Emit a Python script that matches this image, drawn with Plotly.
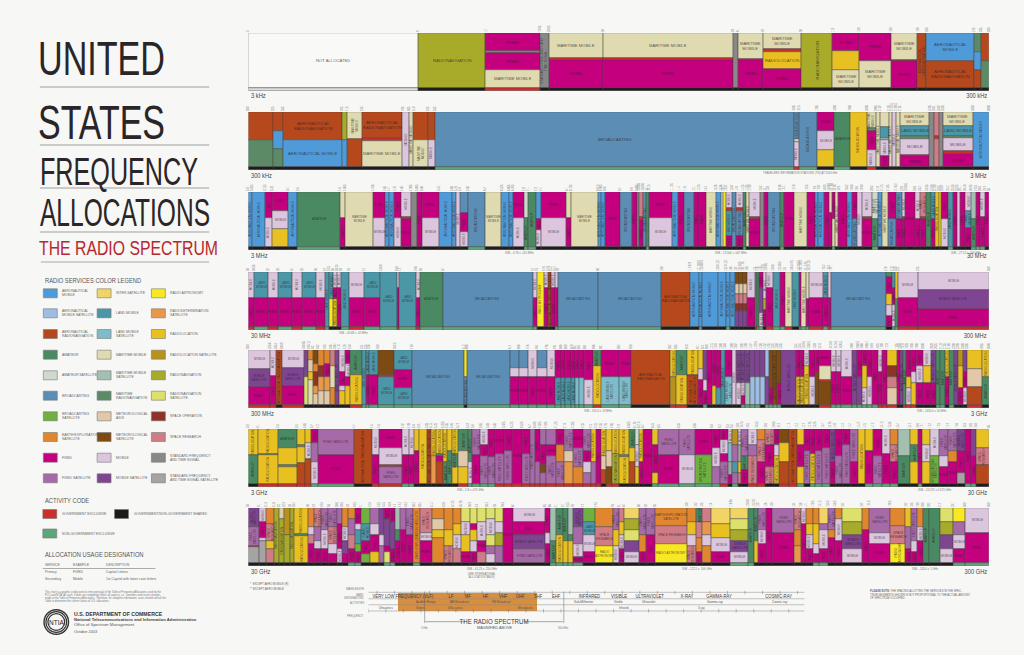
import json
import re
import plotly.graph_objects as go

W, H = 1024, 655
NARROW = "Liberation Sans Narrow, Arial, sans-serif"
SANS = "Liberation Sans, Arial, sans-serif"

# service code -> (colour, label on the chart and legend)
services = {
    "AM": ("#4f9bd9", "AERONAUTICAL MOBILE"), "AMS": ("#9dbde3", "AERONAUTICAL MOBILE SATELLITE"),
    "AR": ("#b5481c", "AERONAUTICAL RADIONAVIGATION"), "AT": ("#4a8a63", "AMATEUR"),
    "ATS": ("#cfd9cc", "AMATEUR SATELLITE"), "B": ("#5b8db5", "BROADCASTING"),
    "BS": ("#6fb040", "BROADCASTING SATELLITE"), "E": ("#e0862f", "EARTH EXPLORATION SATELLITE"),
    "F": ("#c4007f", "FIXED"), "FS": ("#a76aa8", "FIXED SATELLITE"),
    "IS": ("#f2d466", "INTER-SATELLITE"), "LM": ("#4b97a8", "LAND MOBILE"),
    "LMS": ("#7fbccb", "LAND MOBILE SATELLITE"), "MM": ("#e0dab0", "MARITIME MOBILE"),
    "MMS": ("#a3bfb0", "MARITIME MOBILE SATELLITE"), "MR": ("#5c8a66", "MARITIME RADIONAVIGATION"),
    "MA": ("#e0c8a8", "METEOROLOGICAL AIDS"), "MS": ("#7e4a14", "METEOROLOGICAL SATELLITE"),
    "M": ("#dcc6de", "MOBILE"), "MOS": ("#7f4593", "MOBILE SATELLITE"),
    "RA": ("#f7e823", "RADIO ASTRONOMY"), "RD": ("#e8984a", "RADIODETERMINATION SATELLITE"),
    "RL": ("#e8c021", "RADIOLOCATION"), "RLS": ("#b8921c", "RADIOLOCATION SATELLITE"),
    "RN": ("#a8ab2a", "RADIONAVIGATION"), "RNS": ("#dde06a", "RADIONAVIGATION SATELLITE"),
    "SO": ("#8f3228", "SPACE OPERATION"), "SR": ("#cf7c86", "SPACE RESEARCH"),
    "SF": ("#888888", "STANDARD FREQUENCY AND TIME SIGNAL"),
    "SFS": ("#a5a3a3", "STANDARD FREQUENCY AND TIME SIGNAL SATELLITE"),
    "NA": ("#f9f9f8", "NOT ALLOCATED"),
    "G": ("#c9302c", ""),
}
activity_colors = {"S": "#1c1a1b", "G": "#c9302c", "N": "#5da57a", "U": "#dcdcdc"}

legend_columns = [
    [("AM", "AERONAUTICAL\nMOBILE"), ("AMS", "AERONAUTICAL\nMOBILE SATELLITE"), ("AR", "AERONAUTICAL\nRADIONAVIGATION"),
     ("AT", "AMATEUR"), ("ATS", "AMATEUR SATELLITE"), ("B", "BROADCASTING"), ("BS", "BROADCASTING\nSATELLITE"),
     ("E", "EARTH EXPLORATION\nSATELLITE"), ("F", "FIXED"), ("FS", "FIXED SATELLITE")],
    [("IS", "INTER-SATELLITE"), ("LM", "LAND MOBILE"), ("LMS", "LAND MOBILE\nSATELLITE"), ("MM", "MARITIME MOBILE"),
     ("MMS", "MARITIME MOBILE\nSATELLITE"), ("MR", "MARITIME\nRADIONAVIGATION"), ("MA", "METEOROLOGICAL\nAIDS"),
     ("MS", "METEOROLOGICAL\nSATELLITE"), ("M", "MOBILE"), ("MOS", "MOBILE SATELLITE")],
    [("RA", "RADIO ASTRONOMY"), ("RD", "RADIODETERMINATION\nSATELLITE"), ("RL", "RADIOLOCATION"),
     ("RLS", "RADIOLOCATION SATELLITE"), ("RN", "RADIONAVIGATION"), ("RNS", "RADIONAVIGATION\nSATELLITE"),
     ("SO", "SPACE OPERATION"), ("SR", "SPACE RESEARCH"), ("SF", "STANDARD FREQUENCY\nAND TIME SIGNAL"),
     ("SFS", "STANDARD FREQUENCY\nAND TIME SIGNAL SATELLITE")],
]

# 3 kHz - 300 kHz
band1_widths = [511, 204, 163, 27, 163, 393, 15, 75, 115, 94, 80, 95, 81, 27, 143, 22, 22]
band1_stacks = ["NA", "RN", "F33 SF4 F30 MM33", "SF", "MM46 G3 F51", "MM46 G3 F51", "SF", "MM48 G2 F50",
                "MM29 G6 RL31 F34", "RN", "F33 RL34 MM33", "F51 MM49", "MM49 G2 F49", "AR", "AM51 AR49",
                "MR34 AM33 AR33", "AR52 MR48"]
band1_activity = "USGSS SSSSS SSSSS SS"
band1_freqs = ["3", "9", "14", "19.95", "20.05", "30", "59", "61", "70", "90", "110", "130", "160", "190", "200",
               "275", "285", "300"]

# 300 kHz - 3 MHz
band2_widths = [76, 30, 177, 15, 45, 122, 20, 13, 43, 22,
                1082, 13, 55, 53, 47, 50, 27, 14, 25, 11,
                11, 11, 90, 14, 14, 12, 90, 48]
band2_stacks = ["AR51 MR49", "AR34 AM34 MR32", "AR51 AM49", "RN51 AM49", "MM50 AR50", "AR48 G5 MM47", "M", "MM",
                "AR51 MM49", "AR51 M49",
                "B", "B50 ATS5 M45", "B", "F35 M35 RL30", "AT", "RL", "MM30 MR5 F35 M30", "MM",
                "MM27 LM20 MMS5 M28 F20", "MM",
                "M", "MM", "MM25 LM19 MR5 M29 G2 F20", "SF", "SR43 G7 SR50", "SF", "MM25 LM18 MR4 M25 G5 F23", "AM"]
band2_activity = "SSSSS SSSSS NGNSN SGSSS SSSSS SSS"
band2_freqs = ["300", "325", "335", "405", "415", "435", "495", "505", "510", "525", "535", "1605", "1615", "1705",
               "1800", "1900", "2000", "2065", "2107", "2170", "2173.5", "2190.5", "2194", "2495", "2501", "2502",
               "2505", "2850", "3000"]

# 3 MHz - 30 MHz
band3_widths = [13, 38, 22, 48, 28, 128, 16, 83, 36, 13,
                16, 21, 28, 19, 14, 53, 39, 11, 12, 25,
                50, 50, 23, 12, 33, 13, 24, 14, 77, 14,
                80, 10, 13, 45, 35, 14, 8, 12, 10, 8,
                68, 20, 18, 29, 15, 20, 30, 15, 7, 8,
                20, 13, 20, 10, 9, 33, 12, 10, 38, 12,
                30, 38, 23, 12, 18, 14, 8, 10, 10, 25,
                15, 15, 15, 30, 20, 10, 20, 22, 18, 12,
                28, 15, 20, 15, 10, 12, 8, 20, 15, 13,
                7, 15, 20, 15, 10, 15, 12]
band3_stacks = ["AM", "AM", "F48 M52", "F34 M34 RL32", "AM", "AT", "MM48 F52", "MM", "F48 M52", "AM",
                "AM", "F48 M52", "M45 G4 F51", "SF", "F", "F48 M52", "AM", "AM", "M", "B38 F35 M27",
                "B", "MM", "AM", "AM", "F48 M52", "ATS48 AT52", "AT", "AM50 F20 M30", "F48 M52", "MM48 F52",
                "MM", "AM", "AM", "F", "B", "F", "SF", "SR45 G6 F49", "B", "AT",
                "F48 M52", "AM", "F", "B", "F", "F", "MM", "AM", "MM", "RA",
                "M30 G5 LM45 F20", "B", "M30 G5 B45 F20", "AT", "MM", "M45 G5 F50", "SF", "F", "B", "AT",
                "F", "MM", "F", "AM", "AM", "F", "MM38 F62", "F50 MM50", "MM", "F",
                "AM", "F50 B50", "M", "M45 G5 F50", "ATS50 AT50", "AM", "MM", "F50 B50", "B50 F50", "M45 G4 F51",
                "F", "M50 F50", "SR45 G5 F50", "AT", "LM50 F50", "RL", "RA", "F50 M50", "LM", "F",
                "M", "F", "M35 LM30 F35", "MMS50 AT50", "F", "M45 F55", "F"]
band3_activity = ("SSSSS NSSSS SSSSS SSSSS NSSSS NNSSS SSSSS SSSSN SSSSS SSSSS SSSNS SSSSN SSSSS SSNSS SSSSN SSSSS "
                  "SSSSS SSSNS SSSNN NSNNS")
band3_freqs = ["3.0", "3.025", "3.155", "3.23", "3.4", "3.5", "4.0", "4.063", "4.438", "4.65", "4.7", "4.75", "4.85",
               "4.995", "5.005", "5.06", "5.45", "5.68", "5.73", "5.9", "5.95", "6.2", "6.525", "6.685", "6.765",
               "7.0", "7.1", "7.3", "7.4", "8.1", "8.195", "8.815", "8.965", "9.04", "9.4", "9.9", "9.995",
               "10.003", "10.005", "10.1", "10.15", "11.175", "11.4", "11.6", "12.1", "12.23", "13.2", "13.26",
               "13.36", "13.41", "13.57", "13.87", "14.0", "14.25", "14.35", "14.99", "15.01", "15.1", "15.8",
               "16.36", "17.41", "17.48", "17.55", "17.9", "17.97", "18.03", "18.068", "18.168", "18.78", "18.9",
               "19.02", "19.68", "19.8", "19.99", "20.01", "21.0", "21.45", "21.85", "21.924", "22.0", "22.855",
               "23.0", "23.2", "23.35", "24.89", "24.99", "25.01", "25.07", "25.21", "25.33", "25.55", "26.1",
               "26.48", "26.95", "27.54", "28.0", "29.7", "30"]

# 30 MHz - 300 MHz
band4_widths = [18, 43, 29, 43, 29, 42, 28, 11, 13, 12,
                11, 24, 46, 50, 49, 8, 49, 14, 67, 271,
                14, 19, 13, 10, 12, 8, 121, 191, 85, 28,
                10, 48, 22, 15, 15, 12, 10, 13, 23, 7,
                7, 10, 9, 22, 22, 15, 20, 20, 8, 14,
                8, 45, 15, 7, 166, 17, 10, 8, 61, 213]
band4_stacks = ["M47 F53", "LM47 F53", "M47 F53", "LM47 F53", "M47 F53", "LM47 F53", "M47 F53", "LM", "LM50 RA50",
                "M30 F20 RL50",
                "M30 F70", "LM", "M47 F53", "LM47 F53", "LM", "M30 F70", "LM", "M47 F53", "AT", "B",
                "M47 F53", "RA", "M30 F70", "AR", "M30 F70", "M30 F70", "B", "B", "AR", "AM",
                "AM", "AM", "AM", "AM", "AM", "MS22 MA18 SR18 SO14 MOS28", "MS22 MA18 SR18 SO14 MOS28",
                "MS22 MA18 SR18 SO14 MOS28", "M47 F53", "AT",
                "AT", "F30 MOS45 M25", "M50 RN20 F30", "M30 F70", "LM", "F", "MM", "LM", "F", "MM",
                "MM50 F50", "M47 F53", "LM47 F53", "M47 F53", "B", "AT10 F30 RL20 M20 F20", "LM30 F30 M40",
                "RL50 AT50", "M47 F53", "M33 MOS34 F33"]
band4_activity = "GNGNG NGNSS SNGNN GNGNN NSSSS NNNSS NSSNS SSSSG NNSGN NGSNN NGNGN SNNGG"
band4_freqs = ["30", "30.56", "32", "33", "34", "35", "36", "37", "37.5", "38", "38.25", "39", "40", "42", "43.69",
               "46.6", "47", "49.6", "50", "54", "72", "73", "74.6", "74.8", "75.2", "75.4", "76", "88", "108",
               "117.975", "121.9375", "123.0875", "128.8125", "132.0125", "136", "137", "137.025", "137.175", "138",
               "144", "146", "148", "149.9", "150.05", "150.8", "152.855", "154", "156.2475", "157.0375", "157.1875",
               "161.575", "162.0125", "173.2", "173.4", "174", "216", "219", "220", "222", "225", "300"]

# 300 MHz - 3 GHz
band5_widths = [66, 17, 19, 66, 14, 13, 15, 20, 18, 13,
                13, 19, 15, 35, 12, 10, 26, 50, 52, 157,
                10, 128, 28, 28, 27, 29, 25, 18, 13, 18,
                10, 12, 17, 27, 23, 55, 36, 117, 17, 35,
                33, 14, 13, 13, 12, 15, 13, 22, 12, 16,
                12, 15, 15, 15, 13, 12, 12, 13, 12, 46,
                12, 11, 16, 18, 13, 34, 15, 15, 33, 17,
                15, 13, 17, 18, 12, 14, 29, 10, 10, 10,
                15, 15, 20, 25, 13, 14, 13, 13, 15, 12,
                15, 13, 44, 20]
band5_stacks = ["M34 MOS33 F33", "M48 F52", "AR", "M33 MOS33 F34", "MOS50 RNS50", "E18 MA22 RL15 MM45",
                "MS25 E15 SO25 RD15 MA20", "E30 SO20 RD25 MA25", "E25 F25 RD25 MA25", "SR30 MM40 E30",
                "MOS", "M40 F25 M10 RL25", "F25 M25 F15 RL35", "AT45 RL55", "LM", "LM45 F55", "LM45 F55",
                "MS45 G5 LM50", "LM37 F33 LM30", "B",
                "RA50 B50", "B", "B33 M17 F50", "B33 M17 F50", "M50 F50", "B33 M17 F50", "M50 F50", "F52 LM48",
                "F52 LM48", "F52 LM48",
                "F52 LM48", "F52 LMS48", "F52 LMS48", "F55 M45", "AT30 RL70", "F50 LMS50", "F50 LMS50", "AR",
                "RL50 RLS50", "AT45 RL55",
                "RL45 G3 AR52", "RL35 M20 F45", "MOS55 M20 F25", "F", "F65 RL35", "F70 LM30", "LM", "F50 LMS50", "M",
                "MOS60 M40",
                "MOS60 M25 F15", "MOS60 MMS40", "MOS50 AMS50", "MOS50 AMS50", "MOS50 AMS50", "AMS50 MOS50",
                "MS70 F30", "MS", "MS60 F40", "MOS",
                "F50 RL50", "F50 RL50", "M30 RL70", "F50 M50", "F40 MS60", "F30 MM25 G3 MS42", "M40 F60", "M40 F60",
                "M50 F50", "MOS",
                "F50 MOS50", "F30 RL40 M30", "F50 M50", "F", "M40 F60", "F", "RL30 SO20 SR20 MA30", "F", "MOS", "AT",
                "F50 RL20 M30", "F40 M20 RL40", "F30 M30 F40", "M30 RL30 F40", "MOS60 F40", "AT", "AT", "RL50 F50",
                "AT", "MOS",
                "RLS30 RL40 F30", "MOS40 F30 M30", "RL34 MA33 AR33", "RL50 AT50"]
band5_activity = ("GGSGS SSSSS SSSGN NNNNN SNNNN NNNNN NNNNG NNSGG SSNSS SSSSS NNNNS NNNNS SSSSS GNNNN NNNNG GGSSG "
                  "GGSSS NNSNS SSGS")
band5_freqs = ["300", "328.6", "335.4", "399.9", "400.05", "400.15", "401", "402", "403", "406", "406.1", "410", "420",
               "450", "454", "455", "456", "460", "462.5", "470", "512", "608", "614", "698", "746", "764", "776",
               "794", "806", "809", "849", "851", "854", "894", "896", "901", "902", "928", "932", "935", "940",
               "941", "944", "960", "1215", "1240", "1300", "1350", "1390", "1392", "1395", "1400", "1427", "1429.5",
               "1430", "1432", "1435", "1525", "1530", "1535", "1544", "1545", "1549.5", "1558.5", "1559", "1610",
               "1610.6", "1613.8", "1626.5", "1660", "1660.5", "1668", "1668.4", "1670", "1675", "1700", "1710",
               "1755", "1850", "1910", "1920", "1930", "1990", "2000", "2020", "2025", "2110", "2155", "2180", "2200",
               "2290", "2300", "2305", "2655", "3000"]

# 3 GHz - 30 GHz
band6_widths = [30, 60, 58, 23, 20, 19, 108, 55, 22, 70,
                20, 15, 14, 26, 10, 16, 22, 12, 15, 18,
                30, 13, 24, 22, 21, 28, 25, 30, 24, 13,
                15, 20, 30, 25, 25, 30, 25, 15, 15, 15,
                18, 22, 28, 20, 12, 12, 28, 18, 62, 48,
                50, 24, 26, 12, 18, 10, 20, 27, 25, 25,
                17, 28, 25, 20, 20, 15, 22, 23, 15, 22,
                23, 25, 20, 25, 25, 25, 25, 35, 25, 12,
                23, 27, 28, 28, 22, 18, 17, 37]
band6_stacks = ["RL48 AT52", "RL45 MR3 RL52", "AT35 RL30 MR4 RL31", "RL30 MR3 RL30 AR37", "RL25 M30 AR45",
                "F25 FS35 M40", "FS48 F52", "AR", "M48 F52", "F34 M32 G4 FS30",
                "M48 F52", "M48 F52", "RL40 F60", "RL", "AR", "RL50 RD50", "RL45 MR5 F10 AR40", "RL60 AT40",
                "RL40 AT60", "RL45 AT25 RL30",
                "AT40 MA30 RL30", "AT60 M40", "FS48 F52", "M30 F20 FS50", "F52 FS48", "F45 FS55", "F40 FS60", "F",
                "F45 FS55", "FS",
                "F60 FS40", "FS30 F35 MS15 FS20", "FS30 F20 FS50", "F30 E30 FS40", "FS40 MA20 RD40", "F35 FS35 E30",
                "FS40 F20 M20 FS20", "RL60 FS40", "F", "RL50 MA25 AR25",
                "RL40 MA30 MS30", "RL45 RN55", "RL48 MR4 RL48", "AT35 RL25 AR40", "ATS30 M40 RL30", "RL60 F40", "F",
                "RL30 F50 RL20", "FS48 F52", "FS48 M52",
                "F48 BS52", "F35 M35 FS30", "F20 M25 F15 FS40", "M25 LMS35 SFS25 F15", "RLS30 FS30 LM20 FS20",
                "M30 SFS30 RL20 SR20", "FS50 AT25 F25", "M30 FS20 SR50", "E20 SR40 F40", "SR30 F40 SR30",
                "F30 M20 RL50", "MS25 RL35 AR40", "AR", "RL30 F40 RL30", "F40 FS60", "F45 RL55", "F40 FS60", "F35 FS65",
                "MOS60 F40", "F50 FS50",
                "F30 FS70", "FS60 F40", "RL", "RL40 F60", "F50 FS50", "M45 F55", "E30 SR30 F40", "MMS50 AT50",
                "RL30 AT30 RL40", "F", "RL30 M30 RL40", "M50 BS50", "FS50 M20 F30", "FS40 E20 F40", "MOS40 F40 SFS20",
                "F", "MOS50 F50", "RL35 SR30 AR35"]
band6_activity = ("SGGGG NNSGG NNSSS SSSSS GNNNN GGGGG GGGGG GGGGS GGSSS SSNNN NNGSN SSGGS SGGNS NNNSS SSSNN NNSSN SSSSS "
                  "NNSS")
band6_freqs = ["3.0", "3.1", "3.3", "3.5", "3.65", "3.7", "4.2", "4.4", "4.5", "4.8", "4.94", "4.99", "5.0", "5.01",
               "5.03", "5.15", "5.25", "5.255", "5.35", "5.46", "5.47", "5.57", "5.6", "5.65", "5.83", "5.85", "5.925",
               "6.425", "6.525", "6.7", "6.875", "7.025", "7.075", "7.125", "7.19", "7.235", "7.25", "7.3", "7.45",
               "7.55", "7.75", "7.85", "7.9", "8.025", "8.175", "8.215", "8.4", "8.45", "8.5", "8.55", "8.65", "9.0",
               "9.2", "9.3", "9.5", "10.0", "10.45", "10.5", "10.55", "10.6", "10.68", "10.7", "11.7", "12.2", "12.7",
               "12.75", "13.25", "13.4", "13.75", "14.0", "14.2", "14.4", "14.47", "14.5", "14.71", "15.13", "15.35",
               "15.4", "15.7", "16.6", "17.1", "17.2", "17.3", "17.7", "17.8", "18.3", "18.6", "18.8", "30"]

# 30 GHz - 300 GHz
band7_widths = [33, 22, 23, 15, 15, 17, 13, 43, 17, 23,
                21, 26, 15, 17, 23, 17, 26, 27, 17, 18,
                15, 15, 17, 23, 20, 37, 35, 26, 24, 28,
                22, 28, 25, 25, 30, 95, 17, 18, 20, 15,
                15, 30, 38, 52, 20, 14, 46, 20, 27, 96,
                29, 18, 27, 58, 53, 17, 13, 23, 20, 66,
                20, 15, 20, 21, 25, 22, 22, 60, 20, 63,
                47, 18, 18, 17, 17, 33, 40, 37, 70]
band7_stacks = ["MOS34 FS36 G2 SFS28", "M25 F30 M5 SFS40", "E30 SR30 RL15 SR25", "RN", "MA20 RN80", "RLS50 RN50", "RN",
                "RL47 AT5 RL48", "E35 M15 SR15 F35", "SR35 FS25 M15 F25",
                "FS40 M35 F25", "FS35 SR30 M20 F15", "FS30 F45 M25", "E35 M25 MOS25 F15", "E20 FS30 SR25 F25",
                "F30 M10 LM25 BS15 F20", "BS30 LM30 F25 BS15", "FS30 M20 F30 RL20", "MOS50 M20 FS30",
                "F20 MOS50 F10 RNS20",
                "F25 MOS50 F25", "MMS40 AT20 F40", "FS40 F60", "FS50 F50", "E", "SR45 M15 F40", "E20 MA20 RL15 E45",
                "E40 RL30 SR30", "E30 RL20 M25 SR25", "RNS25 M25 RL30 F20",
                "RNS30 F10 RL20 M20 F20", "RNS25 M35 F20 SR20", "RNS20 M30 RNS20 FS15 M15", "RNS25 M20 RN25 FS30", "F",
                "M25 F25 MOS25 FS25", "F45 M20 F35", "MMS60 AT40", "AT50 RL50", "AT60 RL40",
                "MMS50 AT10 RL40", "MOS35 FS30 M25 F10", "BS25 LM25 M30 F20", "E35 SR35 RA30", "FS40 RL30 M30",
                "SR25 RL25 M25 F25", "IS20 RN20 RNS20 MOS20 M20", "FS50 E30 F20", "FS50 F50", "E33 SR33 RA34",
                "E25 RL25 M20 SR30", "AT25 SR30 E25 F20", "SR25 RD25 M20 E30", "IS30 RL25 M25 F20",
                "IS20 RNS20 RN20 MOS20 M20", "AT", "AT60 RL40", "FS40 M25 F35", "F", "FS45 F55",
                "SR40 E30 RD30", "M30 F70", "E30 RL20 M25 F25", "E30 RL35 M20 F15", "IS30 FS10 M35 F25",
                "FS40 E15 F45", "E20 M40 F40", "RNS25 RN25 MOS25 M25", "E40 F60", "FS45 M20 F35",
                "E33 SR33 RA34", "RL35 FS40 F25", "FS60 M20 F20", "E35 M25 F40", "AT", "AT",
                "RNS25 RN25 MOS25 M25", "RA25 FS25 M25 F25", "M45 F55"]
band7_activity = "SSSSS SSSSS SSSSN NSSSN NSSSN SSSSS SSSSS SSNNN NNSSS SSSSS SSSSN NSSSS SSSNN SSSSS SSSSS SSNNS SSSS"
band7_freqs = ["30", "31", "31.3", "31.8", "32", "32.3", "33", "33.4", "36", "37", "37.5", "38", "38.6", "39.5", "40",
               "40.5", "41", "42.5", "43.5", "45.5", "46.9", "47", "47.2", "48.2", "50.2", "50.4", "51.4", "52.6",
               "54.25", "55.78", "56.9", "57", "58.2", "59", "59.3", "64", "65", "66", "71", "74", "75.5", "76", "77",
               "77.5", "78", "81", "84", "86", "92", "95", "100", "102", "105", "116", "119.98", "120.02", "122.25",
               "123", "126", "130", "134", "136", "141", "148.5", "151.5", "155.5", "158.5", "164", "167", "174.5",
               "176.5", "182", "185", "190", "200", "202", "217", "231", "300"]

bands = [
    (band1_widths, band1_stacks, band1_activity, band1_freqs),
    (band2_widths, band2_stacks, band2_activity, band2_freqs),
    (band3_widths, band3_stacks, band3_activity, band3_freqs),
    (band4_widths, band4_stacks, band4_activity, band4_freqs),
    (band5_widths, band5_stacks, band5_activity, band5_freqs),
    (band6_widths, band6_stacks, band6_activity, band6_freqs),
    (band7_widths, band7_stacks, band7_activity, band7_freqs),
]
band_tops = [33, 112, 192, 272, 350, 429, 508]
band_height = 58
band_end_labels = [("3 kHz", "300 kHz"), ("300 kHz", "3 MHz"), ("3 MHz", "30 MHz"), ("30 MHz", "300 MHz"),
                   ("300 MHz", "3 GHz"), ("3 GHz", "30 GHz"), ("30 GHz", "300 GHz")]
band_notes = [
    (1, 802, "TRAVELERS INFORMATION STATIONS (TIS) AT 1610 kHz"),
    (2, 520, "ISM – 6.78 ± .015 MHz"), (2, 732, "ISM – 13.560 ± .007 MHz"), (2, 968, "ISM – 27.12 ± .163 MHz"),
    (3, 353, "ISM – 40.68 ± .02 MHz"),
    (4, 598, "ISM – 915.0 ± 13 MHz"), (4, 934, "ISM – 2450.0 ± 50 MHz"),
    (5, 470, "ISM – 5.8 ± .075 GHz"), (5, 937, "ISM – 24.125 ± 0.125 GHz"),
    (6, 482, "ISM – 61.25 ± .250 GHz"), (6, 698, "ISM – 122.5 ± .500 GHz"), (6, 927, "ISM – 245.0 ± 1 GHz"),
]

# spectrum ruler, x in decades of the ruler axis
ruler_bands = [("VERY LOW FREQUENCY (VLF)", 2.0), ("LF", 4.7), ("MF", 5.7), ("HF", 6.7), ("VHF", 7.7), ("UHF", 8.7),
               ("SHF", 9.7), ("EHF", 10.7), ("INFRARED", 12.6), ("VISIBLE", 14.3), ("ULTRAVIOLET", 16.1),
               ("X-RAY", 18.2), ("GAMMA-RAY", 20.0), ("COSMIC-RAY", 23.4)]
ruler_activities = [("Audible Range", 3.3), ("AM Broadcast", 5.2), ("FM Broadcast", 7.6), ("Sub-Millimeter", 12.3),
                    ("Visible", 14.3), ("Ultraviolet", 16.0), ("Gamma-ray", 19.8), ("Cosmic-ray", 23.5)]
ruler_sources = [("Ultrasonics", 1.0), ("Sonics", 3.0), ("Ultra-sonics", 5.0), ("Microwaves", 9.0),
                 ("Infrared", 14.6), ("X-ray", 19.0)]
ruler_freqs = ["0", "10 Hz", "100 Hz", "1 kHz", "10 kHz", "100 kHz", "1 MHz", "10 MHz", "100 MHz", "1 GHz", "10 GHz",
               "100 GHz", "1 THz", "10¹³Hz", "10¹⁴Hz", "10¹⁵Hz", "10¹⁶Hz", "10¹⁷Hz", "10¹⁸Hz", "10¹⁹Hz", "10²⁰Hz",
               "10²¹Hz", "10²²Hz", "10²³Hz", "10²⁴Hz"]
ruler_waves = ["", "3×10⁷m", "3×10⁶m", "3×10⁵m", "30,000m", "3,000m", "300m", "30m", "3m", "30cm", "3cm",
               "0.3cm", "0.03cm", "3×10⁵Å", "3×10⁴Å", "3×10³Å", "3×10²Å", "30Å", "3Å", "3×10⁻¹Å", "3×10⁻²Å",
               "3×10⁻³Å", "3×10⁻⁴Å", "3×10⁻⁵Å", "3×10⁻⁶Å"]

# text, left, middle, font size, colour, drawn width
titles = [("UNITED", 34, 58.5, 48, "#2a2526", 127), ("STATES", 34, 122, 48, "#2a2526", 127),
          ("FREQUENCY", 36, 171, 39, "#2a2526", 158), ("ALLOCATIONS", 36, 212, 39, "#2a2526", 170),
          ("THE RADIO SPECTRUM", 35.5, 248, 19.5, "#b8282c", 179)]
title_rules = [87, 145, 188, 232, 262]

fig = go.Figure()
annotations = []
shapes = []


def fx(px):
    return px / W


def fy(py):
    return 1 - py / H


def note(text, px, py, size, color="#444444", font=NARROW, anchor="left"):
    annotations.append(dict(text=text, x=fx(px), y=fy(py), xref="paper", yref="paper", showarrow=False,
                            xanchor=anchor, yanchor="middle", align=anchor, font=dict(size=size, color=color, family=font)))


def paper_line(x0, y0, x1, y1, color="#666666", width=0.7):
    shapes.append(dict(type="line", x0=fx(x0), x1=fx(x1), y0=fy(y0), y1=fy(y1), xref="paper", yref="paper",
                       line=dict(color=color, width=width)))


def paper_rect(x0, y0, x1, y1, fill, line="#777777"):
    shapes.append(dict(type="rect", x0=fx(x0), x1=fx(x1), y0=fy(y0), y1=fy(y1), xref="paper", yref="paper",
                       fillcolor=fill, line=dict(color=line, width=0.6)))


def cell_label(code, xc, yc, width_px, height_px, axis, size):
    label = services[code][1]
    if not label:
        return
    text_len = len(label) * size * 0.62
    words = label.split(" ")
    half = (len(words) + 1) // 2
    two_lines = " ".join(words[:half]) + "<br>" + " ".join(words[half:])
    two_len = max(len(" ".join(words[:half])), len(" ".join(words[half:]))) * size * 0.62
    text, angle = None, 0
    if text_len < width_px and height_px > size:
        text = label
    elif len(words) > 1 and two_len < width_px and height_px > size * 2.2:
        text = two_lines
    elif text_len < height_px and width_px > size:
        text, angle = label, -90
    elif len(words) > 1 and two_len < height_px and width_px > size * 2.2:
        text, angle = two_lines, -90
    if text:
        annotations.append(dict(text=text, x=xc, y=yc, xref=f"x{axis}", yref=f"y{axis}", showarrow=False,
                                textangle=angle, font=dict(size=size, color="rgba(45,35,40,0.75)", family=SANS)))


strip = 6.1
for i, (widths, stacks, activity, freqs) in enumerate(bands, start=1):
    activity = activity.replace(" ", "")
    total = sum(widths)
    px_per_unit = 743.4 / total
    xs, bases, heights, cell_widths, colors = [], [], [], [], []
    edges = [0]
    for col, (width, stack) in enumerate(zip(widths, stacks)):
        left = edges[-1]
        center = left + width / 2
        edges.append(left + width)
        parts = [(code, float(share) if share else 100.0) for code, share in re.findall(r"([A-Z]+)(\d*)", stack)]
        scale = 100.0 / sum(p[1] for p in parts)
        top = 100.0
        for code, share in parts:
            share *= scale
            xs.append(center)
            bases.append(top - share)
            heights.append(share)
            cell_widths.append(width)
            colors.append(services[code][0])
            if i <= 2:
                size = 4.2 if width * px_per_unit > 25 else 3.2
            else:
                size = 3.0
            cell_label(code, center, top - share / 2, width * px_per_unit, share * 0.54, i, size)
            top -= share
        xs.append(center)
        bases.append(-strip)
        heights.append(strip)
        cell_widths.append(width)
        colors.append(activity_colors[activity[col]] if col < len(activity) else activity_colors["S"])
    fig.add_trace(go.Bar(x=xs, y=heights, base=bases, width=cell_widths, xaxis=f"x{i}", yaxis=f"y{i}",
                         marker=dict(color=colors, line=dict(color="#3a3a3a", width=0.45)), showlegend=False,
                         hoverinfo="skip"))
    top_px = band_tops[i - 1]
    fig.update_layout({
        f"xaxis{i}": dict(domain=[fx(247.3), fx(990.7)], range=[0, total], anchor=f"y{i}", side="top",
                          tickmode="array", tickvals=edges, ticktext=freqs[:len(edges) - 1] + freqs[-1:],
                          tickangle=-90, tickfont=dict(size=2.6, color="#7a7a7a", family=SANS), ticks="",
                          showgrid=False, zeroline=False, showline=False),
        f"yaxis{i}": dict(domain=[fy(top_px + band_height), fy(top_px)], range=[-strip, 100], anchor=f"x{i}",
                          visible=False, fixedrange=True),
    })
    left_label, right_label = band_end_labels[i - 1]
    note(left_label, 247.5, top_px + band_height + 5, 7)
    note(right_label, 991, top_px + band_height + 5, 7, anchor="right")

for row, px, text in band_notes:
    note(text, px, band_tops[row] + band_height + 3, 2.8, color="#777777", font=SANS, anchor="center")
note("(SEE INTERNATIONAL<br>ALLOCATION TABLE)", 482, 575, 2.6, color="#777777", font=SANS, anchor="center")
note("*  EXCEPT AERO MOBILE (R)", 247, 584, 2.8, color="#666666", font=SANS)
note("** EXCEPT AERO MOBILE", 247, 589, 2.8, color="#666666", font=SANS)

# left panel titles
for text, px, py, size, color, _ in titles:
    note(text, px, py, size, color=color)
for py in title_rules[:-1]:
    paper_line(38, py, 208, py, width=0.6)
paper_line(39, title_rules[-1], 208, title_rules[-1], color="#777777", width=0.6)

# colour legend
note("RADIO SERVICES COLOR LEGEND", 41, 280.5, 7.2, color="#555555")
legend_ys = [293.3, 313.3, 334, 354.7, 375.3, 395.7, 416.3, 437, 457.7, 478.3]
legend_xs = [41.5, 95.5, 150]
for col_x, column in zip(legend_xs, legend_columns):
    for py, (code, text) in zip(legend_ys, column):
        paper_rect(col_x, py - 4.5, col_x + 14, py + 4.5, services[code][0])
        note(text.replace("\n", "<br>"), col_x + 16.5, py, 3.4, color="#666666", font=SANS)

# activity code
note("ACTIVITY CODE", 41, 500.5, 7.2, color="#555555")
paper_rect(41, 509.5, 55, 518.5, activity_colors["G"])
note("GOVERNMENT EXCLUSIVE", 58, 514, 3.4, color="#666666", font=SANS)
paper_rect(113, 509.5, 127, 518.5, activity_colors["S"])
note("GOVERNMENT/NON-GOVERNMENT SHARED", 131, 514, 3.4, color="#666666", font=SANS)
paper_rect(41, 529, 55, 538, activity_colors["N"])
note("NON-GOVERNMENT EXCLUSIVE", 58, 533.5, 3.4, color="#666666", font=SANS)

# allocation usage table
note("ALLOCATION USAGE DESIGNATION", 41, 554.5, 7.2, color="#555555")
usage_rows = [("SERVICE", "EXAMPLE", "DESCRIPTION"), ("Primary", "FIXED", "Capital Letters"),
              ("Secondary", "Mobile", "1st Capital with lower case letters")]
for py, (service, example, description) in zip([565, 572, 578.5], usage_rows):
    note(service, 41, py, 3.4, color="#666666", font=SANS)
    note(example, 69, py, 3.4, color="#666666", font=SANS)
    note(description, 102, py, 3.4, color="#666666", font=SANS)
paper_line(41, 568.5, 154, 568.5, color="#777777", width=0.6)
fine_print = ["This chart is a graphic single-point-in-time portrayal of the Table of Frequency Allocations used by the",
              "FCC and NTIA. As such, it does not completely reflect all aspects, i.e., footnotes and recent changes",
              "made to the Table of Frequency Allocations. Therefore, for complete information, users should consult the",
              "Table to determine the current status of U.S. allocations."]
for py, text in zip([591.5, 594.5, 597.5, 600.5], fine_print):
    note(text, 41, py, 2.6, color="#777777", font=SANS)

# NTIA seal
for radius, fill in [(13, "#333333"), (11.6, "#f7f7f6"), (11, "#333333"), (9.8, "#f7f7f6"), (9, "#333333"),
                     (7.8, "#f7f7f6")]:
    shapes.append(dict(type="circle", x0=fx(54.5 - radius), x1=fx(54.5 + radius), y0=fy(622 - radius),
                       y1=fy(622 + radius), xref="paper", yref="paper", fillcolor=fill, line=dict(width=0)))
note("NTIA", 54.5, 622, 6.5, color="#222222", font=SANS, anchor="center")
note("<b>U.S. DEPARTMENT OF COMMERCE</b>", 70, 614, 5.2, color="#333333", font=SANS)
note("<b>National Telecommunications and Information Administration</b>", 70, 619.5, 4.2, color="#444444", font=SANS)
note("Office of Spectrum Management", 70, 624.5, 4.2, color="#555555", font=SANS)
note("October 2003", 70, 632, 3.8, color="#555555", font=SANS)

# spectrum ruler
ruler_axis = len(bands) + 1
decades = 24.9
fig.add_trace(go.Bar(x=[5.7], y=[4.05], base=[0.55], width=[7.94], xaxis=f"x{ruler_axis}", yaxis=f"y{ruler_axis}",
                     marker=dict(color="#d98e3e", line=dict(width=0)), showlegend=False, hoverinfo="skip"))
fig.update_layout({
    f"xaxis{ruler_axis}": dict(domain=[fx(367.7), fx(805.7)], range=[0, decades], anchor=f"y{ruler_axis}", visible=False),
    f"yaxis{ruler_axis}": dict(domain=[fy(613.5), fy(590.5)], range=[0, 5], anchor=f"x{ruler_axis}", visible=False),
})
for level in [0.55, 1.9, 3.2, 4.6]:
    shapes.append(dict(type="line", x0=0, x1=decades, y0=level, y1=level, xref=f"x{ruler_axis}", yref=f"y{ruler_axis}",
                       line=dict(color="#8a8a8a", width=0.5)))
for dec in range(len(ruler_freqs)):
    shapes.append(dict(type="line", x0=dec, x1=dec, y0=0.2, y1=1.0, xref=f"x{ruler_axis}", yref=f"y{ruler_axis}",
                       line=dict(color="#666666", width=0.4)))
    shapes.append(dict(type="line", x0=dec + 0.5, x1=dec + 0.5, y0=4.2, y1=5.0, xref=f"x{ruler_axis}", yref=f"y{ruler_axis}",
                       line=dict(color="#666666", width=0.4)))


def ruler_text(text, dec, level, size, color="#444444", family=NARROW):
    annotations.append(dict(text=text, x=dec, y=level, xref=f"x{ruler_axis}", yref=f"y{ruler_axis}", showarrow=False,
                            font=dict(size=size, color=color, family=family)))


for name, dec in ruler_bands:
    ruler_text(name, dec, 3.9, 5.2, color="#3a3a3a")
for name, dec in ruler_activities:
    ruler_text(name, dec, 2.55, 3.0, color="#555555", family=SANS)
for name, dec in ruler_sources:
    ruler_text(name, dec, 1.25, 2.8, color="#555555", family=SANS)
for dec, text in enumerate(ruler_freqs):
    ruler_text(text, dec, -0.6, 2.4, color="#777777", family=SANS)
for dec, text in enumerate(ruler_waves):
    if text:
        ruler_text(text, dec, 5.5, 2.4, color="#777777", family=SANS)
for py, text in [(589, "WAVELENGTH"), (596, "BAND<br>DESIGNATIONS"), (603, "ACTIVITIES"), (615.5, "FREQUENCY")]:
    note(text, 365.5, py, 2.6, color="#777777", font=SANS, anchor="right")
paper_line(424.3, 591.5, 424.3, 623, color="#666666", width=0.5)
paper_line(564, 591.5, 564, 623, color="#666666", width=0.5)
paper_line(425, 621.7, 465, 621.7, color="#555555", width=0.5)
paper_line(524, 621.7, 563, 621.7, color="#555555", width=0.5)
note("THE RADIO SPECTRUM", 494, 621.7, 7.6, color="#3a3a3a", anchor="center")
note("MAGNIFIED ABOVE", 494, 628, 3.8, color="#555555", font=SANS, anchor="center")
note("3 kHz", 424.3, 627.5, 2.6, color="#777777", font=SANS, anchor="center")
note("300 GHz", 564, 627.5, 2.6, color="#777777", font=SANS, anchor="center")
note("<b>PLEASE NOTE:</b> THE SPACING ALLOTTED THE SERVICES IN THE SPEC-<br>TRUM SEGMENTS SHOWN IS NOT PROPORTIONAL TO THE ACTUAL AMOUNT<br>OF SPECTRUM OCCUPIED.",
     869, 594, 2.7, color="#666666", font=SANS)

fig.update_layout(
    width=W, height=H, margin=dict(l=0, r=0, t=0, b=0), autosize=False,
    paper_bgcolor="#f7f7f6", plot_bgcolor="rgba(0,0,0,0)", barmode="overlay", bargap=0, showlegend=False,
    annotations=annotations, shapes=shapes,
)

# no condensed face is installed, so the narrow texts are squeezed to their drawn width once the page is up
title_widths = {t[0]: t[5] for t in titles}
squeeze = """
document.body.style.margin='0';document.body.style.background='#f7f7f6';
var gd=document.querySelector('.plotly-graph-div');
var targets=%s;
gd.querySelectorAll('.annotation-text').forEach(function(t){
  if(t.style.fontFamily.indexOf('Narrow')<0) return;
  var ann=gd.layout.annotations[+t.closest('.annotation').getAttribute('data-index')];
  var b=t.getBBox();
  var len=(ann.font.size>=15&&targets[t.textContent])||b.width*0.8;
  var shift=ann.xanchor=='left'?0:(ann.xanchor=='right'?b.width-len:(b.width-len)/2);
  t.setAttribute('text-anchor','start');
  t.setAttribute('x',b.x+shift);
  t.setAttribute('textLength',len);
  t.setAttribute('lengthAdjust','spacingAndGlyphs');
});
""" % json.dumps(title_widths)

fig.write_html("out.html", config={"displayModeBar": False, "responsive": False}, post_script=squeeze)
